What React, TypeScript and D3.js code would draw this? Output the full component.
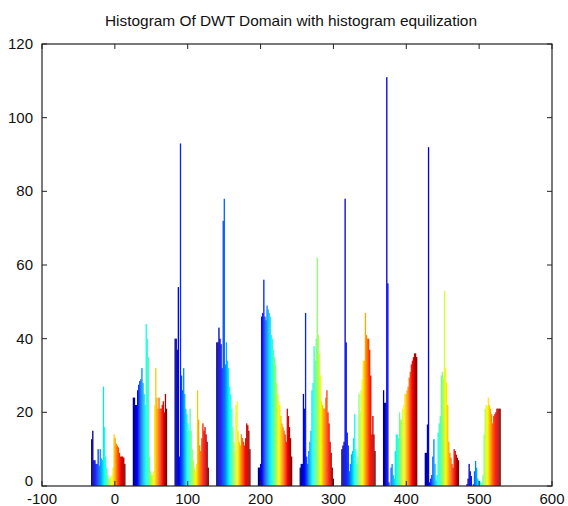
import React from "react";
import * as d3 from "d3";

const title = "Histogram Of DWT Domain with histogram equilization";
const xTicks = [-100, 0, 100, 200, 300, 400, 500, 600];
const yTicks = [0, 20, 40, 60, 80, 100, 120];
const binCenters = [-9.2, 48.0, 105.3, 162.5, 219.7, 277.0, 334.2, 391.4, 448.7, 505.9];

const g1 = [12.7, 15, 7, 7, 6, 6, 10, 5.5, 10, 7.5, 7, 27, 16, 8, 5, 3, 2, 2, 2.5, 3, 5, 14, 13, 11.5, 11, 10.5, 9, 8, 8, 8, 7.7, 6];
const g2 = [24, 24, 22, 22, 26, 27.5, 28.5, 29, 32, 28, 25, 22, 44, 40, 35, 8, 4, 3, 3, 4, 22, 32, 24, 21, 24, 21, 21, 22, 23, 20, 25, 21];
const g3 = [40, 40, 37, 54, 8, 93, 30, 26, 32, 25, 21, 19.5, 17, 15, 21, 15, 10, 7, 5, 4, 6, 26, 18, 11, 9.5, 13, 17, 15, 16, 14, 12, 5];
const g4 = [39, 39, 43, 40, 38.5, 32, 72, 78, 33, 39, 34, 32, 27, 25, 21, 16, 12, 9.5, 22, 23, 15, 12, 11, 14, 13, 12, 11, 13, 17, 16.5, 15, 10];
const g5 = [5, 5, 6, 46, 47, 56, 46, 45, 49, 48, 47, 46, 41, 40, 37, 35, 33, 28, 25, 23, 22, 19, 17, 16, 15, 14, 12, 21, 19, 16, 13, 8];
const g6 = [5, 6, 6, 25, 21, 47, 8, 6, 9.5, 12, 15, 26, 28, 38, 34, 40, 62, 41, 36, 30, 23, 22, 21, 21, 24, 26, 20, 17, 12, 9, 5, 2];
const g7 = [10, 11, 12, 78, 39, 14.5, 11, 4, 6, 8.6, 9.5, 13, 19.5, 10, 6, 8, 25, 20, 26, 29, 34, 34, 47, 41, 40, 40, 37, 30, 14, 19, 14, 9.5];
const g8 = [26, 22.6, 22.6, 111, 55, 1, 0, 5, 6, 3, 2, 9.5, 14, 14, 13, 20, 18, 18, 21, 22, 25, 25, 26, 27, 29.4, 31, 33, 34, 35, 36, 36, 35];
const g9 = [9, 9, 16.7, 92, 1, 2, 3, 8, 12.7, 6, 1.5, 3, 14.5, 17, 19, 30, 31, 29, 53, 32, 28, 22, 12, 9, 7.7, 6, 5, 10, 9.5, 8.5, 7.7, 7];
const g10 = [0.5, 2, 6, 4, 2.7, 0, 0.5, 4, 6.8, 5, 2, 1.5, 1.4, 1, 1, 3, 14, 21, 22, 21.7, 24, 22, 21, 19.5, 17, 19, 19.5, 20, 21, 21, 21, 21];
const groups = [g1, g2, g3, g4, g5, g6, g7, g8, g9, g10];

function jet(t: number): string {
  const r = Math.max(0, Math.min(1, 1.5 - Math.abs(4 * t - 3)));
  const g = Math.max(0, Math.min(1, 1.5 - Math.abs(4 * t - 2)));
  const b = Math.max(0, Math.min(1, 1.5 - Math.abs(4 * t - 1)));
  return d3.rgb(r * 255, g * 255, b * 255).formatHex();
}

export default function App() {
  const W = 568, H = 506;
  const left = 42, right = 552, top = 44, bottom = 486;
  const x = d3.scaleLinear().domain([-100, 600]).range([left, right]);
  const y = d3.scaleLinear().domain([0, 120]).range([bottom, top]);
  const spacing = binCenters[1] - binCenters[0];
  const gw = spacing * 0.82;
  const font = "'Liberation Sans Narrow', 'Liberation Sans', Arial, sans-serif";
  const tickLen = 5;

  const bars: React.ReactNode[] = [];
  groups.forEach((vals, gi) => {
    const n = vals.length;
    const start = binCenters[gi] - gw / 2;
    vals.forEach((v, i) => {
      const x0 = x(start + (i * gw) / n);
      const x1 = x(start + ((i + 1) * gw) / n);
      if (v <= 0) return;
      bars.push(
        <rect
          key={`${gi}-${i}`}
          x={x0}
          y={y(v)}
          width={Math.max(0.5, x1 - x0 + 0.25)}
          height={y(0) - y(v)}
          fill={jet(i / (n - 1))}
        />
      );
    });
  });

  return (
    <svg width={W} height={H} style={{ position: "fixed", left: 0, top: 0, background: "#fff" }}>
      <rect x={0} y={0} width={W} height={H} fill="#fff" />
      <text
        x={(left + right) / 2 - 6}
        y={26}
        textAnchor="middle"
        fontFamily={font}
        fontSize={15}
        textLength={372}
        lengthAdjust="spacingAndGlyphs"
        fill="#111"
      >
        {title}
      </text>
      <g>{bars}</g>
      <rect x={left} y={top} width={right - left} height={bottom - top} fill="none" stroke="#222" strokeWidth={1.2} />
      {xTicks.map((t) => (
        <g key={`xt${t}`}>
          <line x1={x(t)} x2={x(t)} y1={bottom} y2={bottom - tickLen} stroke="#222" />
          <line x1={x(t)} x2={x(t)} y1={top} y2={top + tickLen} stroke="#222" />
          <text x={x(t)} y={504} textAnchor="middle" fontFamily={font} fontSize={15} fill="#111">
            {t}
          </text>
        </g>
      ))}
      {yTicks.map((t) => (
        <g key={`yt${t}`}>
          <line x1={left} x2={left + tickLen} y1={y(t)} y2={y(t)} stroke="#222" />
          <line x1={right} x2={right - tickLen} y1={y(t)} y2={y(t)} stroke="#222" />
          <text x={33} y={y(t) + (t === 0 ? 0 : 5)} textAnchor="end" fontFamily={font} fontSize={15} fill="#111">
            {t}
          </text>
        </g>
      ))}
    </svg>
  );
}
